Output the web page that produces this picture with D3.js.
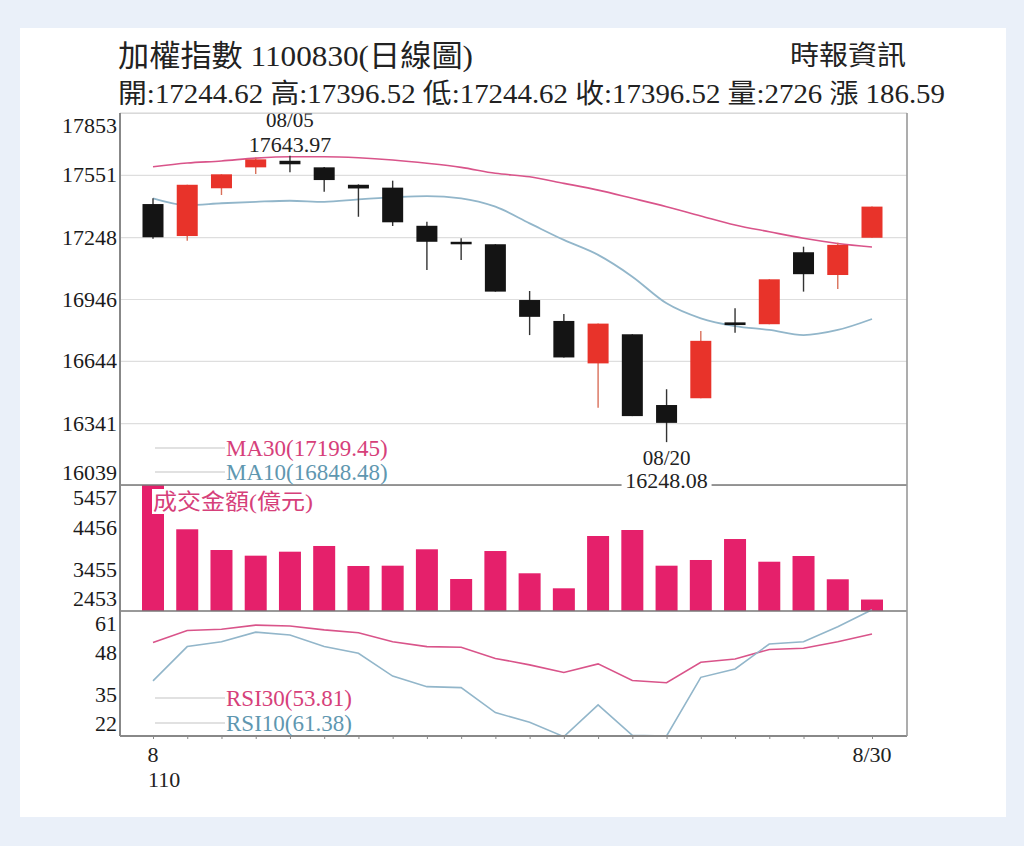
<!DOCTYPE html>
<html>
<head>
<meta charset="utf-8">
<script src="https://cdn.jsdelivr.net/npm/d3@7"></script>
<style>
  body { margin: 0; background: #eaf0f9; }
  text { font-family: "Liberation Serif", "Noto Sans CJK TC", serif; }
</style>
</head>
<body>
<div id="chart"></div>
<script>
// Daily data, 07/30 .. 08/30 (2021)
var dates = ["07/30", "08/02", "08/03", "08/04", "08/05", "08/06", "08/09", "08/10", "08/11", "08/12", "08/13",
             "08/16", "08/17", "08/18", "08/19", "08/20", "08/23", "08/24", "08/25", "08/26", "08/27", "08/30"];
var openP  = [17409, 17253, 17486, 17588, 17620, 17588, 17503, 17489, 17303, 17225, 17213,
              16941, 16839, 16632, 16774, 16429, 16462, 16832, 16823, 17174, 17063, 17244.62];
var highP  = [17437, 17503, 17554, 17636, 17643.97, 17590, 17505, 17523, 17323, 17242, 17213,
              16985, 16873, 16826, 16774, 16506, 16790, 16901, 17042, 17201, 17220, 17396.52];
var lowP   = [17240, 17230, 17453, 17555, 17564, 17469, 17347, 17302, 17087, 17136, 16982,
              16770, 16661, 16416, 16375, 16248.08, 16462, 16782, 16823, 16982, 16995, 17244.62];
var closeP = [17247, 17503, 17554, 17627, 17603, 17526, 17485, 17320, 17225, 17220, 16982,
              16859, 16661, 16826, 16375, 16342, 16742, 16819, 17042, 17067, 17210, 17396.52];
var ma30 = [17591, 17609, 17619, 17633, 17640, 17640, 17635, 17624, 17608, 17588, 17559,
            17542, 17510, 17477, 17437, 17396, 17351, 17307, 17274, 17242, 17217, 17199.45];
var ma10 = [17437, 17404, 17413, 17420, 17425, 17420, 17432, 17442, 17448, 17437, 17396,
            17315, 17234, 17161, 17055, 16925, 16852, 16814, 16795, 16770, 16795, 16848.48];
var volume = [5457, 4401, 3907, 3772, 3867, 4003, 3526, 3533, 3924, 3216, 3883,
              3352, 2994, 4241, 4384, 3533, 3669, 4169, 3628, 3764, 3209, 2726];
var rsi30 = [51.2, 54.9, 55.3, 56.6, 56.3, 55.1, 54.2, 51.4, 49.9, 49.7, 46.2,
             44.2, 41.8, 44.5, 39.3, 38.6, 45.0, 46.0, 49.0, 49.4, 51.4, 53.81];
var rsi10 = [39.2, 49.9, 51.4, 54.4, 53.5, 49.9, 47.8, 40.7, 37.4, 37.1, 29.3,
             26.3, 21.8, 31.7, 22.2, 22.0, 40.3, 42.9, 50.7, 51.4, 56.1, 61.38];
var priceTicks = [16039, 16341, 16644, 16946, 17248, 17551, 17853];
var volumeTicks = [2453, 3455, 4456, 5457];
var rsiTicks = [22, 35, 48, 61];

var title = "加權指數 1100830(日線圖)";
var source = "時報資訊";
var summary = "開:17244.62 高:17396.52 低:17244.62 收:17396.52 量:2726 漲 186.59";

var W = 1024, H = 846;
var left = 120, right = 907;
var priceTop = 113, priceBottom = 485, volBottom = 611, rsiBottom = 736;

var red = "#e8332a", black = "#141414", pink = "#e5206b";
var ma30Color = "#d9548a", ma10Color = "#92b6ca";
var latinFont = '"Liberation Serif", serif';
var cjkFont = '"Noto Sans CJK TC", sans-serif';

var svg = d3.select("#chart").append("svg").attr("width", W).attr("height", H);
svg.append("rect").attr("width", W).attr("height", H).attr("fill", "#eaf0f9");
svg.append("rect").attr("x", 20).attr("y", 28).attr("width", 986).attr("height", 789).attr("fill", "#fff");

// scales
var x = d3.scalePoint().domain(dates).range([153, 872]);
var yPrice = d3.scaleLinear().domain([16039, 17853]).range([priceBottom, priceTop]);
var yVol = d3.scaleLinear().domain([2453, 5457]).range([volBottom, priceBottom]);
var yRsi = d3.scaleLinear().domain([22, 61]).range([rsiBottom, volBottom]);

// mixed text: CJK runs in the CJK font, the rest in the serif font
function mixedText(sel, str) {
    var parts = str.match(/[\u3400-\u9fff]+|[^\u3400-\u9fff]+/g);
    parts.forEach(function (p) {
        var isCjk = /[\u3400-\u9fff]/.test(p);
        sel.append("tspan").attr("font-family", isCjk ? cjkFont : latinFont)
            .style("font-family", isCjk ? cjkFont : latinFont).text(p);
    });
    return sel;
}

// header
mixedText(svg.append("text").attr("x", 118).attr("y", 66).attr("font-size", 30).attr("fill", "#222")
    .attr("textLength", 355).attr("lengthAdjust", "spacingAndGlyphs"), title);
mixedText(svg.append("text").attr("x", 790).attr("y", 65).attr("font-size", 27).attr("fill", "#222")
    .attr("textLength", 116).attr("lengthAdjust", "spacingAndGlyphs"), source);
mixedText(svg.append("text").attr("x", 118).attr("y", 103).attr("font-size", 27).attr("fill", "#222")
    .attr("textLength", 827).attr("lengthAdjust", "spacingAndGlyphs"), summary);

// clamp tick label so it stays inside its panel
function clampLabels(g, scale, top, bottom) {
    g.selectAll(".tick").each(function (d) {
        var py = scale(d);
        var cy = Math.max(top + 12, Math.min(bottom - 13, py));
        d3.select(this).select("text").attr("y", cy - py);
    });
}

// price axis + gridlines
var priceAxis = svg.append("g").attr("transform", `translate(${left},0)`)
    .call(d3.axisLeft(yPrice).tickValues(priceTicks).tickSize(-(right - left)).tickPadding(3).tickFormat(d3.format("d")));
priceAxis.select(".domain").remove();
priceAxis.selectAll("line").attr("stroke", "#dedede").attr("stroke-width", 1.2);
priceAxis.selectAll("text").attr("font-size", 22).attr("fill", "#1a1a1a").style("font-family", latinFont);
clampLabels(priceAxis, yPrice, priceTop, priceBottom);

var volAxis = svg.append("g").attr("transform", `translate(${left},0)`)
    .call(d3.axisLeft(yVol).tickValues(volumeTicks).tickSize(0).tickPadding(3).tickFormat(d3.format("d")));
volAxis.select(".domain").remove();
volAxis.selectAll("text").attr("font-size", 22).attr("fill", "#1a1a1a").style("font-family", latinFont);
clampLabels(volAxis, yVol, priceBottom, volBottom);

var rsiAxis = svg.append("g").attr("transform", `translate(${left},0)`)
    .call(d3.axisLeft(yRsi).tickValues(rsiTicks).tickSize(0).tickPadding(3).tickFormat(d3.format("d")));
rsiAxis.select(".domain").remove();
rsiAxis.selectAll("text").attr("font-size", 22).attr("fill", "#1a1a1a").style("font-family", latinFont);
clampLabels(rsiAxis, yRsi, volBottom, rsiBottom);

// moving averages
var maLine = d3.line().x((d, i) => x(dates[i])).y(d => yPrice(d)).curve(d3.curveMonotoneX);
svg.append("path").datum(ma30).attr("d", maLine).attr("fill", "none").attr("stroke", ma30Color).attr("stroke-width", 1.6);
svg.append("path").datum(ma10).attr("d", maLine).attr("fill", "none").attr("stroke", ma10Color).attr("stroke-width", 1.8);

// candles
var candleW = 21;
dates.forEach(function (d, i) {
    var up = closeP[i] >= openP[i];
    var col = up ? red : black;
    var cx = x(d);
    svg.append("line").attr("x1", cx).attr("x2", cx)
        .attr("y1", yPrice(highP[i])).attr("y2", yPrice(lowP[i]))
        .attr("stroke", up ? "#d9705a" : "#333").attr("stroke-width", 1.4);
    var yTop = yPrice(Math.max(openP[i], closeP[i]));
    var yBot = yPrice(Math.min(openP[i], closeP[i]));
    svg.append("rect").attr("x", cx - candleW / 2).attr("y", yTop)
        .attr("width", candleW).attr("height", Math.max(2.5, yBot - yTop)).attr("fill", col);
});

// high / low annotations
var hiIdx = highP.indexOf(d3.max(highP));
var loIdx = lowP.indexOf(d3.min(lowP));
svg.append("text").attr("x", x(dates[hiIdx])).attr("y", 127).attr("text-anchor", "middle")
    .attr("font-size", 21).attr("fill", "#222").text(dates[hiIdx]);
svg.append("text").attr("x", x(dates[hiIdx])).attr("y", yPrice(highP[hiIdx]) - 4).attr("text-anchor", "middle")
    .attr("font-size", 22).attr("fill", "#222").text(highP[hiIdx].toFixed(2));

// volume bars
var barW = 22;
svg.selectAll(".vol").data(volume).enter().append("rect")
    .attr("x", (d, i) => x(dates[i]) - barW / 2)
    .attr("y", d => yVol(d))
    .attr("width", barW)
    .attr("height", d => volBottom - yVol(d))
    .attr("fill", pink);

// rsi lines (clipped to panel)
svg.append("clipPath").attr("id", "rsiClip").append("rect")
    .attr("x", left).attr("y", volBottom - 2).attr("width", right - left).attr("height", rsiBottom - volBottom + 2);
var rsiLine = d3.line().x((d, i) => x(dates[i])).y(d => yRsi(d));
svg.append("path").datum(rsi30).attr("d", rsiLine).attr("clip-path", "url(#rsiClip)")
    .attr("fill", "none").attr("stroke", ma30Color).attr("stroke-width", 1.6);
svg.append("path").datum(rsi10).attr("d", rsiLine).attr("clip-path", "url(#rsiClip)")
    .attr("fill", "none").attr("stroke", ma10Color).attr("stroke-width", 1.6);

// frame
svg.append("line").attr("x1", left).attr("x2", right).attr("y1", priceTop).attr("y2", priceTop).attr("stroke", "#d4d4d4").attr("stroke-width", 1.2);
svg.append("line").attr("x1", left).attr("x2", right).attr("y1", priceBottom).attr("y2", priceBottom).attr("stroke", "#777").attr("stroke-width", 1.6);
svg.append("line").attr("x1", left).attr("x2", right).attr("y1", volBottom).attr("y2", volBottom).attr("stroke", "#777").attr("stroke-width", 1.6);
svg.append("line").attr("x1", left).attr("x2", right).attr("y1", rsiBottom).attr("y2", rsiBottom).attr("stroke", "#888").attr("stroke-width", 1.8);
svg.append("line").attr("x1", left).attr("x2", left).attr("y1", priceTop).attr("y2", rsiBottom).attr("stroke", "#888").attr("stroke-width", 2);
svg.append("line").attr("x1", right).attr("x2", right).attr("y1", priceTop).attr("y2", rsiBottom).attr("stroke", "#999").attr("stroke-width", 1.6);

// low annotation (with white background over the panel line)
svg.append("text").attr("x", x(dates[loIdx])).attr("y", 465).attr("text-anchor", "middle")
    .attr("font-size", 21).attr("fill", "#222").text(dates[loIdx]);
svg.append("rect").attr("x", x(dates[loIdx]) - 45).attr("y", 470).attr("width", 90).attr("height", 18).attr("fill", "#fff");
svg.append("text").attr("x", x(dates[loIdx])).attr("y", 488).attr("text-anchor", "middle")
    .attr("font-size", 22).attr("fill", "#222").text(lowP[loIdx].toFixed(2));

// legends
function legend(y, label, color) {
    svg.append("line").attr("x1", 155).attr("x2", 225).attr("y1", y).attr("y2", y).attr("stroke", "#c4c4c4").attr("stroke-width", 1.2);
    svg.append("text").attr("x", 226).attr("y", y + 8).attr("font-size", 23).attr("fill", color).text(label);
}
legend(448, "MA30(" + ma30[ma30.length - 1].toFixed(2) + ")", "#d6407a");
legend(472, "MA10(" + ma10[ma10.length - 1].toFixed(2) + ")", "#5f97b0");
legend(698, "RSI30(" + rsi30[rsi30.length - 1].toFixed(2) + ")", "#d6407a");
legend(723, "RSI10(" + rsi10[rsi10.length - 1].toFixed(2) + ")", "#5f97b0");

svg.append("rect").attr("x", 152).attr("y", 489).attr("width", 162).attr("height", 25).attr("fill", "#fff");
mixedText(svg.append("text").attr("x", 153).attr("y", 509).attr("font-size", 22).attr("fill", "#d6407a")
    .attr("textLength", 160).attr("lengthAdjust", "spacingAndGlyphs"), "成交金額(億元)");

// x axis ticks and labels
svg.append("g").attr("transform", `translate(0,${rsiBottom})`)
    .call(d3.axisBottom(x).tickSize(3).tickFormat(""))
    .call(g => g.select(".domain").remove())
    .selectAll("line").attr("stroke", "#888");
svg.append("text").attr("x", x(dates[0])).attr("y", 762).attr("text-anchor", "middle").attr("font-size", 22).attr("fill", "#222").text("8");
svg.append("text").attr("x", x(dates[0]) - 5).attr("y", 787).attr("font-size", 22).attr("fill", "#222").text("110");
svg.append("text").attr("x", x(dates[dates.length - 1])).attr("y", 762).attr("text-anchor", "middle").attr("font-size", 22).attr("fill", "#222").text("8/30");
</script>
</body>
</html>
